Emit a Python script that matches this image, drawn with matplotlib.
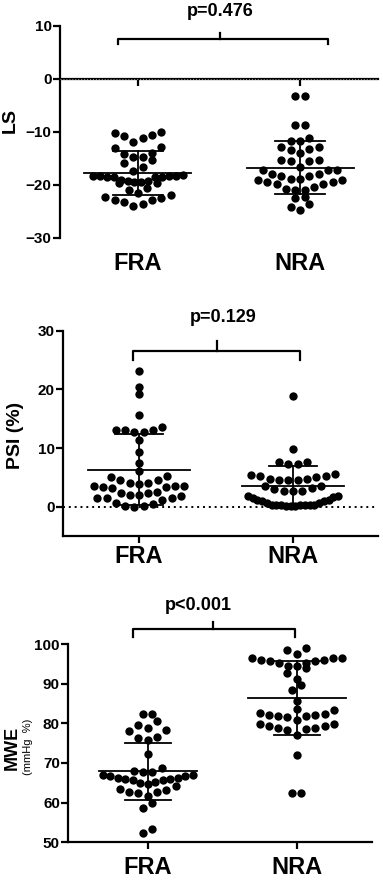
import matplotlib
matplotlib.use("Agg")
import matplotlib.pyplot as plt
import numpy as np

plt.rcParams['font.family'] = ['Liberation Sans', 'DejaVu Sans']
plt.rcParams['font.weight'] = 'bold'

grupos = ['FRA', 'NRA']

# LS
fra_ls = [-10.8, -10.3, -12.0, -10.6, -10.0, -11.1, -14.0, -14.7, -13.1, -12.9, -14.2,
          -15.4, -15.9, -14.8, -16.6, -17.4, -18.3, -18.4, -18.5, -18.6, -18.6, -18.5,
          -18.4, -18.3, -18.2, -19.3, -19.6, -19.4, -19.7, -19.5, -19.3, -19.1, -20.7,
          -21.0, -21.6, -22.4, -22.8, -23.3, -24.0, -23.6, -22.9, -22.6, -22.0]
nra_ls = [-3.2, -3.2, -8.7, -8.7, -11.1, -11.7, -11.8, -12.8, -13.3, -14.1, -13.4, -12.9,
          -15.3, -15.6, -15.6, -15.4, -16.6, -17.3, -17.3, -17.9, -18.4, -18.9, -19.1,
          -19.5, -19.8, -19.8, -19.5, -19.2, -18.9, -18.4, -17.9, -17.3, -20.75, -21.0,
          -21.0, -20.4, -22.3, -22.6, -23.6, -24.8, -24.3]
ls_media = [-17.7, -16.8]
ls_dp = [4.15, 5.0]

# PSI (%)
fra_psi = [23.1, 20.4, 19.2, 15.7, 13.0, 12.7, 13.6, 12.7, 13.0, 13.0, 11.3, 9.3, 7.4, 6.0,
           5.0, 4.6, 4.6, 5.2, 3.9, 3.5, 3.4, 3.1, 3.6, 4.0, 3.5, 3.4, 4.0, 2.0, 1.5, 1.5,
           2.3, 2.4, 2.5, 1.2, 1.5, 1.8, 2.0, 0.6, 0.1, 0.0, 0.1, 0.5]
nra_psi = [18.9, 9.8, 7.7, 7.3, 7.2, 7.6, 5.5, 5.2, 4.8, 4.6, 4.5, 4.5, 4.8, 5.1, 5.2, 5.4,
           3.5, 3.0, 2.7, 2.6, 2.6, 3.2, 3.6, 1.8, 1.5, 1.2, 0.9, 0.6, 0.3, 0.2, 0.05, 0.2,
           0.3, 0.6, 0.9, 1.2, 1.6, 1.8, 0.1, 0.2, 0.1, 0.3, 0.2]
psi_media = [6.3, 3.5]
psi_dp = [6.1, 3.5]

# MWE
fra_mwe = [82.4, 82.4, 80.7, 79.7, 78.2, 78.8, 78.0, 76.5, 75.8, 76.3, 72.3, 68.7, 68.0,
           67.0, 66.6, 66.1, 65.9, 65.7, 65.3, 65.7, 65.9, 66.1, 66.6, 67.0, 67.7, 67.8,
           64.9, 64.2, 63.2, 62.6, 62.4, 61.7, 62.8, 63.4, 64.7, 60.0, 58.7, 52.4, 53.3]
nra_mwe = [99.1, 98.5, 97.5, 96.5, 96.0, 95.7, 95.1, 94.5, 93.9, 94.5, 95.1, 95.7, 96.0,
           96.4, 96.4, 91.3, 92.8, 89.7, 88.5, 85.6, 83.6, 82.5, 82.1, 81.8, 81.7, 80.8,
           81.8, 82.1, 82.4, 83.4, 79.8, 79.2, 78.7, 78.3, 78.5, 78.7, 79.4, 79.8, 77.1,
           72.0, 62.4, 62.4]
mwe_media = [67.9, 86.3]
mwe_dp = [7.2, 9.35]

pvalores = ['p=0.476', 'p=0.129', 'p<0.001']

W, H = 383, 884
fig = plt.figure(figsize=(W / 100, H / 100), dpi=100)


def eixo(esq, topo, dir, base):
    # posicao em pixels da imagem
    return fig.add_axes([esq / W, 1 - base / H, (dir - esq) / W, (base - topo) / H])


def enxame(ax, valores, xc, d=9.3, h=11.0, g=6.0, largmax=90.0):
    # pontos agrupados em linhas (estilo GraphPad), espalhados do centro para fora
    pts = ax.transData.transform(np.column_stack([np.full(len(valores), xc), valores]))
    ys = pts[:, 1]
    x0 = pts[0, 0]
    xs = np.zeros(len(ys))
    linhas = []
    for i in np.argsort(ys):
        if linhas and ys[i] - ys[linhas[-1][0]] < h and ys[i] - ys[linhas[-1][-1]] < g:
            linhas[-1].append(i)
        else:
            linhas.append([i])
    for linha in linhas:
        n = len(linha)
        passo = d if n < 2 else min(d, largmax / (n - 1))
        if n % 2:
            offs = [0.0]
            for k in range(1, n // 2 + 1):
                offs += [-k, k]
        else:
            offs = []
            for k in range(n // 2):
                offs += [-(k + 0.5), k + 0.5]
        for i, o in zip(linha, offs):
            xs[i] = o * passo
    dados = ax.transData.inverted().transform(np.column_stack([x0 + xs, ys]))
    ax.scatter(dados[:, 0], dados[:, 1], s=36, color='black', linewidths=0, zorder=3, clip_on=False)


def painel(ax, fra, nra, media, dp, ylim, ticks, xlim, y_base):
    ax.set_xlim(*xlim)
    ax.set_ylim(*ylim)
    for k, vals in enumerate([fra, nra]):
        enxame(ax, vals, k + 1)
        ax.plot([k + 1 - 0.33, k + 1 + 0.33], [media[k]] * 2, color='black', lw=1.3, zorder=4)
        for s in (-1, 1):
            ax.plot([k + 1 - 0.155, k + 1 + 0.155], [media[k] + s * dp[k]] * 2, color='black', lw=1.3, zorder=4)
        ax.plot([k + 1, k + 1], [media[k] - dp[k], media[k] + dp[k]], color='black', lw=1.3, zorder=4)
    ax.spines['top'].set_visible(False)
    ax.spines['right'].set_visible(False)
    ax.spines['left'].set_linewidth(1.6)
    ax.spines['bottom'].set_linewidth(1.6)
    ax.set_yticks(ticks)
    ax.set_xticks([1, 2])
    ax.set_xticklabels([])
    ax.tick_params(axis='y', length=5, width=1.6, labelsize=11, pad=1)
    ax.tick_params(axis='x', length=5, width=1.6)
    for lab in ax.get_yticklabels():
        lab.set_fontweight('bold')
    for k, g in enumerate(grupos):
        ax.text(k + 1, y_base, g, ha='center', va='center', fontsize=17, fontweight='bold', clip_on=False)
    ax.patch.set_alpha(0)


def chave(ax, x1, x2, xm, y, baixo, cima, texto, xt, yt):
    ax.plot([x1, x1, x2, x2], [baixo, y, y, baixo], color='black', lw=1.6, clip_on=False,
            solid_joinstyle='round')
    ax.plot([xm, xm], [y, cima], color='black', lw=1.6, clip_on=False)
    ax.text(xt, yt, texto, ha='center', va='center', fontsize=13, fontweight='bold', clip_on=False)


def rotulo_y(ax, texto, x, y, tam, peso='bold'):
    ax.text(x, y, texto, transform=ax.transAxes, rotation=90, ha='center', va='center',
            fontsize=tam, fontweight=peso)


# painel LS
ax1 = eixo(60, 25.7, 378, 237.7)
painel(ax1, fra_ls, nra_ls, ls_media, ls_dp, (-30, 10), [-30, -20, -10, 0, 10], (0.519, 2.481), -34.8)
ax1.spines['bottom'].set_position(('data', 0))
ax1.axhline(0, color='#888888', lw=0.8, ls=':', zorder=5)
rotulo_y(ax1, 'LS', -0.157, 0.555, 14)
chave(ax1, 0.877, 2.173, 1.506, 7.45, 6.5, 8.6, pvalores[0], 1.506, 12.7)

# painel PSI
ax2 = eixo(63, 330.7, 378, 536)
painel(ax2, fra_psi, nra_psi, psi_media, psi_dp, (-5, 30), [0, 10, 20, 30], (0.506, 2.552), -8.5)
ax2.axhline(0, color='black', lw=1.4, ls=(0, (1, 2)), zorder=1)
rotulo_y(ax2, 'PSI (%)', -0.152, 0.49, 14)
chave(ax2, 0.961, 2.045, 1.505, 26.6, 25.0, 28.3, pvalores[1], 1.545, 32.3)

# painel MWE
ax3 = eixo(68.3, 644, 371.7, 842.3)
painel(ax3, fra_mwe, nra_mwe, mwe_media, mwe_dp, (50, 100), [50, 60, 70, 80, 90, 100], (0.467, 2.503), 43.6)
rotulo_y(ax3, 'MWE', -0.186, 0.476, 13)
rotulo_y(ax3, '(mmHg  %)', -0.133, 0.48, 8, 'normal')
chave(ax3, 0.901, 1.989, 1.438, 103.8, 101.8, 105.6, pvalores[2], 1.338, 109.8)

fig.savefig('out.png', dpi=100)
